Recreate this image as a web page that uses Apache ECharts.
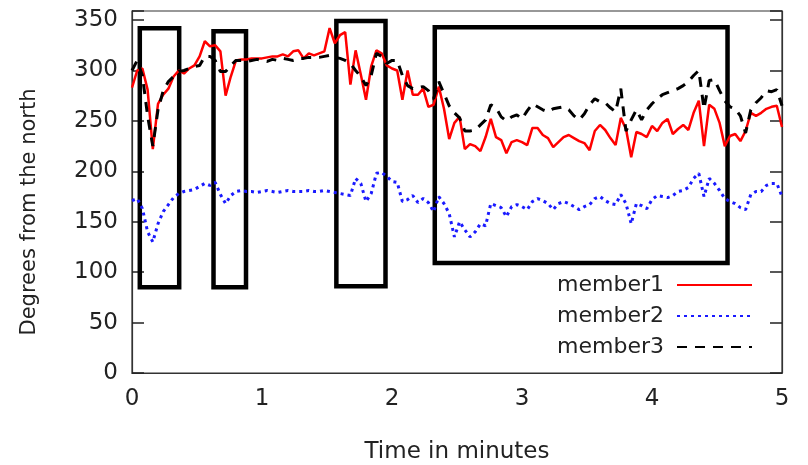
<!DOCTYPE html>
<html><head><meta charset="utf-8">
<script src="https://cdn.jsdelivr.net/npm/echarts@6/dist/echarts.min.js"></script>
<style>html,body{margin:0;padding:0;background:#fff}#c{width:808px;height:465px}</style>
</head><body><div id="c"></div>
<script>
// ---- data ----
const seriesNames = ['member1', 'member2', 'member3'];
const xTickValues = [0, 1, 2, 3, 4, 5];
const yTickValues = [0, 50, 100, 150, 200, 250, 300, 350];
const xTitle = 'Time in minutes';
const yTitle = 'Degrees from the north';
const sampleStepMinutes = 0.04; // one sample every 0.04 minutes, starting at 0

const member1 = [283,300,302,281,222,267,276,282,294,300,297,302,305,314,329,324,325,319,275,294,
  310,311,311,312,312,312,313,314,314,316,314,319,320,312,317,315,317,319,342,327,
  335,338,286,320,296,271,304,320,317,305,302,300,271,300,276,276,282,264,266,284,
  262,232,248,254,222,227,225,220,234,252,234,231,218,229,231,229,226,243,243,236,
  233,224,229,234,236,233,230,228,221,240,246,241,233,226,253,242,214,239,237,234,
  245,240,248,252,237,242,246,241,258,270,225,266,262,248,225,235,237,230,240,258,
  255,258,262,264,265,244];
const member2 = [171,173,163,140,130,148,160,167,174,178,180,181,182,185,188,186,189,177,168,176,
  180,181,180,180,179,180,181,180,179,180,181,180,180,180,181,180,180,181,180,179,
  178,177,176,193,188,170,178,198,199,195,190,189,170,172,176,169,173,169,160,175,
  168,158,135,150,142,135,140,148,146,168,166,164,155,165,167,165,162,170,173,171,
  168,162,168,170,168,165,162,165,167,173,175,171,168,167,177,168,148,168,166,163,
  172,176,175,174,176,180,181,184,193,198,175,193,188,181,173,170,168,164,162,177,
  180,180,186,188,188,175];
const member3 = [300,310,295,255,225,261,280,289,294,299,300,302,304,305,314,314,310,299,299,305,
  310,310,309,310,311,310,309,311,310,312,311,310,312,312,313,313,313,314,315,313,
  312,310,307,300,294,285,295,317,314,307,310,310,295,285,282,283,284,280,272,289,
  277,265,258,253,240,240,241,246,251,266,263,254,250,254,256,252,260,267,264,261,
  259,262,263,264,261,255,251,257,266,272,269,268,263,259,282,240,251,261,251,261,
  267,272,276,278,280,282,285,289,295,300,262,290,291,280,270,264,262,255,238,261,
  268,273,280,279,281,265];
// highlighted windows: [tStart, valueTop, tEnd, valueBottom]
const highlightBoxes = [
  [0.06, 342, 0.363, 85],
  [0.627, 339, 0.877, 85],
  [1.572, 349, 1.95, 86],
  [2.329, 343, 4.581, 109]
];

// ---- chart ----
const FONT = 'DejaVu Sans';
const toPairs = arr => arr.map((v, i) => [+(i * sampleStepMinutes).toFixed(2), v]);
const colors = ['#ff0000', '#1a1aff', '#000000'];
const lineTypes = ['solid', [3, 4], [10, 8]];
const allSeries = [member1, member2, member3];

const chart = echarts.init(document.getElementById('c'), null, {renderer: 'canvas'});
const series = allSeries.map((d, k) => ({
  name: seriesNames[k],
  type: 'line',
  data: toPairs(d),
  symbol: 'none',
  showSymbol: false,
  color: colors[k],
  lineStyle: {color: colors[k], width: k === 0 ? 2.5 : 3, type: lineTypes[k]},
  z: 3 + k,
  animation: false
}));
series.push({
  type: 'line', data: [], silent: true, animation: false, z: 10,
  markArea: {
    silent: true,
    itemStyle: {color: 'rgba(0,0,0,0)', borderColor: '#000', borderWidth: 4.5},
    data: highlightBoxes.map(b => [{coord: [b[0], b[1]]}, {coord: [b[2], b[3]]}])
  }
});

const yMin = yTickValues[0], yMax = 359;
chart.setOption({
  backgroundColor: '#fff',
  animation: false,
  grid: {left: 132, right: 26, top: 11, bottom: 92, containLabel: false, outerBoundsMode: 'none',
    show: true, borderColor: '#333', borderWidth: 1.2, backgroundColor: 'transparent'},
  xAxis: {
    type: 'value', min: xTickValues[0], max: xTickValues[xTickValues.length - 1], interval: 1,
    name: xTitle, nameLocation: 'middle', nameGap: 68,
    nameTextStyle: {fontFamily: FONT, fontSize: 23, color: '#222'},
    axisLine: {show: true, lineStyle: {color: '#333', width: 1.2}},
    axisTick: {show: false},
    splitLine: {show: false},
    axisLabel: {fontFamily: FONT, fontSize: 23, color: '#222', margin: 15,
      formatter: v => xTickValues.includes(v) ? String(v) : ''}
  },
  yAxis: [{
    type: 'value', min: yMin, max: yMax, interval: 50, position: 'left',
    axisLine: {show: true, lineStyle: {color: '#333', width: 1.2}},
    axisTick: {show: true, inside: true, length: 12, lineStyle: {color: '#222', width: 1.5}},
    splitLine: {show: false},
    axisLabel: {fontFamily: FONT, fontSize: 23, color: '#222', margin: 14,
      formatter: v => yTickValues.includes(v) ? String(v) : ''}
  }, {
    type: 'value', min: yMin, max: yMax, interval: 50, position: 'right',
    axisLine: {show: true, lineStyle: {color: '#333', width: 1.2}},
    axisTick: {show: true, inside: true, length: 12, lineStyle: {color: '#222', width: 1.5}},
    splitLine: {show: false},
    axisLabel: {show: false}
  }],
  legend: {
    orient: 'vertical', right: 50, top: 268, align: 'right',
    itemWidth: 75, itemHeight: 14, itemGap: 7,
    data: seriesNames,
    itemStyle: {opacity: 0},
    textStyle: {fontFamily: FONT, fontSize: 22, color: '#222', lineHeight: 24, padding: [0, 8, 0, 0]},
    selectedMode: false
  },
  graphic: [{
    type: 'text', x: 30, y: 212, rotation: Math.PI / 2,
    style: {text: yTitle, font: '21px "DejaVu Sans"', fill: '#222', align: 'center', verticalAlign: 'middle'}
  }],
  series: series
});
</script>
</body></html>
